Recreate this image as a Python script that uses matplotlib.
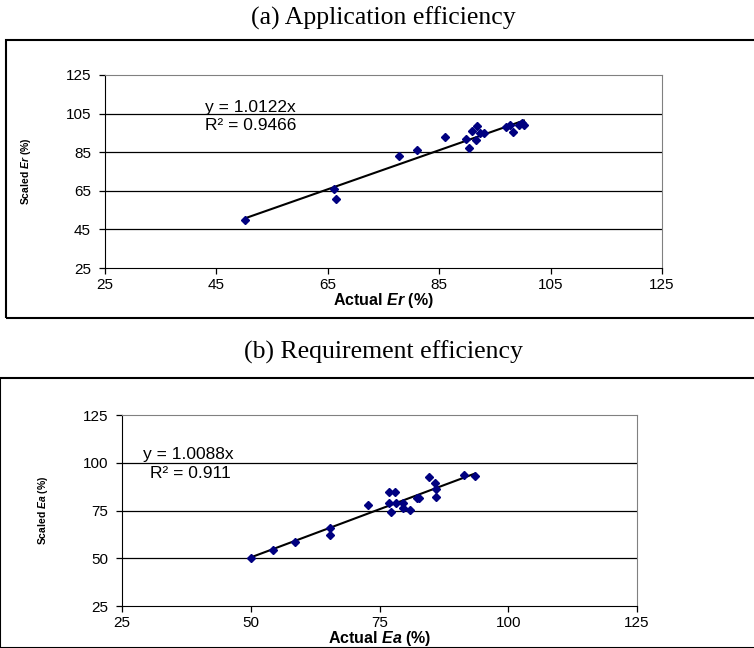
import numpy as np
import matplotlib.pyplot as plt
from matplotlib.patches import Rectangle

plt.rcParams['font.family'] = 'Liberation Sans'
plt.rcParams['mathtext.fontset'] = 'custom'
plt.rcParams['mathtext.rm'] = 'Liberation Sans:bold'
plt.rcParams['mathtext.it'] = 'Liberation Sans:italic:bold'

# (a) Application efficiency: actual vs scaled Er (%)
er_actual = [50.2, 66.1, 66.4, 77.7, 81.0, 86.0, 89.9, 90.4, 90.8, 91.8,
             91.6, 92.3, 93.1, 97.0, 97.7, 98.2, 99.3, 99.9, 100.2]
er_scaled = [50.0, 65.8, 60.9, 82.9, 86.1, 92.9, 91.8, 87.2, 96.1, 98.6,
             91.4, 95.1, 94.8, 97.9, 98.9, 95.6, 99.1, 100.0, 99.3]
er_slope = 1.0122
er_r2 = 0.9466

# (b) Requirement efficiency: actual vs scaled Ea (%)
ea_actual = [50.0, 54.3, 58.6, 65.3, 65.3, 72.8, 76.9, 78.0, 76.9, 77.3,
             78.3, 79.5, 79.6, 80.9, 82.3, 82.7, 84.7, 85.7, 86.0, 86.0,
             91.4, 93.5]
ea_scaled = [50.0, 54.5, 58.3, 65.6, 62.4, 77.9, 84.6, 84.6, 79.0, 74.4,
             78.9, 78.9, 76.1, 75.4, 81.5, 81.5, 92.5, 89.4, 86.2, 82.0,
             93.4, 93.3]
ea_slope = 1.0088
ea_r2 = 0.911

fig = plt.figure(figsize=(7.54, 6.48), dpi=100)
W, H = 754, 648


def px_axes(l, t, r, b):
    return fig.add_axes([l / W, 1 - b / H, (r - l) / W, (b - t) / H])


def style(ax, ticks, xlab, ylab, w, h, ylab_gap):
    ax.set_xlim(25, 125)
    ax.set_ylim(25, 125)
    ax.set_xticks(ticks)
    ax.set_yticks(ticks)
    for s in ['top', 'right']:
        ax.spines[s].set_color('#808080')
    for s in ['left', 'bottom']:
        ax.spines[s].set_color('black')
    ax.tick_params(direction='out', length=4, width=0.9, labelsize=11, colors='black')
    ax.tick_params(axis='y', pad=6)
    for v in ticks[1:-1]:
        ax.axhline(v, color='black', lw=0.9, zorder=1)
    ax.set_xlabel(xlab, fontsize=11.5, fontweight='bold')
    ax.xaxis.set_label_coords(0.5, -23 / h)
    ax.set_ylabel(ylab, fontsize=7.5, fontweight='bold')
    ax.yaxis.set_label_coords(-ylab_gap / w, 0.5)


# top panel
fig.add_artist(Rectangle((6 / W, 1 - 318 / H), 760 / W, 278 / H, transform=fig.transFigure,
                         fill=False, ec='black', lw=1.5))
fig.text(383 / W, 1 - 18 / H, '(a) Application efficiency', family='Liberation Serif',
         fontsize=18.5, ha='center', va='center')
ax1 = px_axes(105, 75, 662, 268)
style(ax1, [25, 45, 65, 85, 105, 125], r'Actual $\mathit{Er}$ (%)', r'Scaled $\mathit{Er}$ (%)',
      557, 193, 72)
xs = np.array([min(er_actual), max(er_actual)])
ax1.plot(xs, er_slope * xs, color='black', lw=1.5, zorder=3)
ax1.plot(er_actual, er_scaled, 'D', color='#000080', ms=4.5, zorder=4)
ax1.text(43, 106, 'y = %.4fx' % er_slope, fontsize=12.5)
ax1.text(43, 96.5, 'R² = %.4f' % er_r2, fontsize=12.5)

# bottom panel
fig.add_artist(Rectangle((0, 0), 760 / W, 1 - 378 / H, transform=fig.transFigure,
                         fill=False, ec='black', lw=1.5))
fig.text(383 / W, 1 - 352 / H, '(b) Requirement efficiency', family='Liberation Serif',
         fontsize=18.5, ha='center', va='center')
ax2 = px_axes(122, 415, 637, 606)
style(ax2, [25, 50, 75, 100, 125], r'Actual $\mathit{Ea}$ (%)', r'Scaled $\mathit{Ea}$ (%)',
      515, 191, 72)
xs = np.array([min(ea_actual), max(ea_actual)])
ax2.plot(xs, ea_slope * xs, color='black', lw=1.5, zorder=3)
ax2.plot(ea_actual, ea_scaled, 'D', color='#000080', ms=4.5, zorder=4)
ax2.text(29, 102, 'y = %.4fx' % ea_slope, fontsize=12.5)
ax2.text(30.5, 92, 'R² = %.3f' % ea_r2, fontsize=12.5)

fig.savefig('out.png', dpi=100)
